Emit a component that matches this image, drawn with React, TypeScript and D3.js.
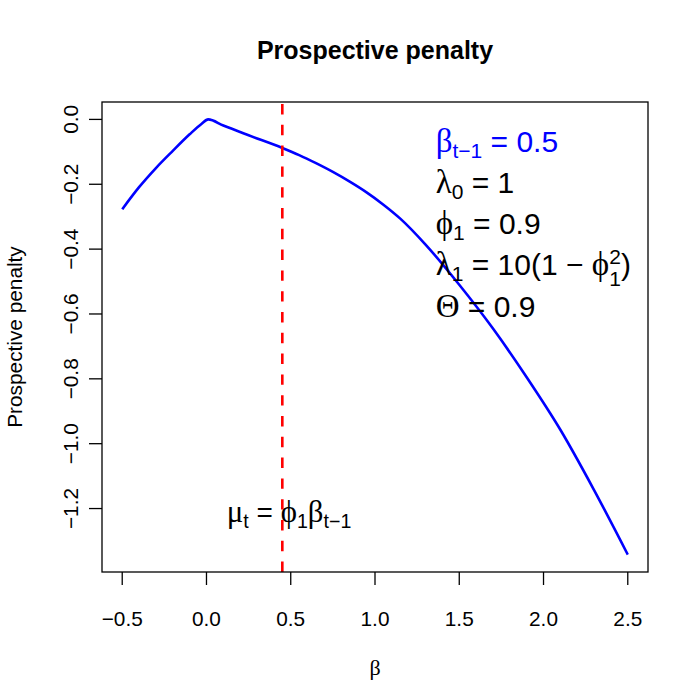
import React from 'react';
import * as d3 from 'd3';

// curve: beta vs prospective penalty
const betaGrid = [
  -0.5, -0.4, -0.3, -0.2, -0.1, -0.03, 0.01, 0.1, 0.25, 0.45, 0.55, 0.65, 0.75,
  0.85, 0.95, 1.05, 1.15, 1.3, 1.5, 1.7, 1.9, 2.1, 2.3, 2.5,
];
const penalty = [
  -0.277, -0.209, -0.15, -0.097, -0.046, -0.014, 0, -0.019, -0.049, -0.088,
  -0.11, -0.135, -0.162, -0.192, -0.225, -0.263, -0.306, -0.386, -0.51,
  -0.645, -0.795, -0.957, -1.143, -1.342,
];

const xTicks = [-0.5, 0, 0.5, 1, 1.5, 2, 2.5];
const yTicks = [0, -0.2, -0.4, -0.6, -0.8, -1.0, -1.2];

const betaPrev = 0.5;
const phi1 = 0.9;
const muT = phi1 * betaPrev;

const W = 700;
const H = 700;
const margin = { top: 102, right: 52, bottom: 128, left: 102 };

const SANS = '"Liberation Sans", Arial, Helvetica, sans-serif';
const SERIF = '"Liberation Serif", "DejaVu Serif", serif';

type Seg = { t: string; greek?: boolean; small?: boolean; off?: number; dx?: number };

const Rich = ({ x, y, segs, size, fill = '#000', anchor = 'start' }: any) => {
  let prev = 0;
  return (
    <text x={x} y={y} fontSize={size} fill={fill} textAnchor={anchor} fontFamily={SANS} style={{ whiteSpace: 'pre' }}>
      {segs.map((s: Seg, i: number) => {
        const off = s.off ?? 0;
        const dy = off - prev;
        prev = off;
        return (
          <tspan
            key={i}
            dy={dy}
            dx={s.dx}
            fontFamily={s.greek ? SERIF : undefined}
            fontSize={s.small ? size * 0.7 : s.greek ? size * 1.1 : undefined}
          >
            {s.t}
          </tspan>
        );
      })}
    </text>
  );
};

// R-style axis extent: 4% padding on each side
const padded = (vals: number[]) => {
  const [lo, hi] = d3.extent(vals) as [number, number];
  const p = (hi - lo) * 0.04;
  return [lo - p, hi + p];
};

export default function App() {
  const x = d3.scaleLinear().domain(padded(betaGrid)).range([margin.left, W - margin.right]);
  const y = d3.scaleLinear().domain(padded(penalty)).range([H - margin.bottom, margin.top]);
  const fmt = d3.format('.1f');

  const pts = betaGrid.map((b, i) => [b, penalty[i]] as [number, number]);
  const line = d3
    .line<[number, number]>()
    .x(d => x(d[0]))
    .y(d => y(d[1]))
    .curve(d3.curveMonotoneX);

  const x0 = margin.left;
  const x1 = W - margin.right;
  const y0 = margin.top;
  const y1 = H - margin.bottom;
  const cx = (x0 + x1) / 2;
  const cy = (y0 + y1) / 2;

  const lgSize = 30;
  const lgX = x(1.36);
  const lgY = y(-0.1);
  const lgStep = 41.2;
  const sub = 6;

  const legendRows: { segs: Seg[]; fill: string }[] = [
    {
      fill: '#0000ff',
      segs: [
        { t: 'β', greek: true },
        { t: 't−1', small: true, off: sub },
        { t: ' = ' + betaPrev.toFixed(1) },
      ],
    },
    {
      fill: '#000',
      segs: [{ t: 'λ', greek: true }, { t: '0', small: true, off: sub }, { t: ' = 1' }],
    },
    {
      fill: '#000',
      segs: [{ t: 'ϕ', greek: true }, { t: '1', small: true, off: sub }, { t: ' = ' + phi1.toFixed(1) }],
    },
    {
      fill: '#000',
      segs: [
        { t: 'λ', greek: true },
        { t: '1', small: true, off: sub },
        { t: ' = 10(1 − ' },
        { t: 'ϕ', greek: true },
        { t: '1', small: true, off: 11 },
        { t: '2', small: true, off: -11, dx: -lgSize * 0.7 * 0.556 },
        { t: ')' },
      ],
    },
    {
      fill: '#000',
      segs: [{ t: 'Θ', greek: true }, { t: ' = 0.9' }],
    },
  ];

  const muSegs: Seg[] = [
    { t: 'μ', greek: true },
    { t: 't', small: true, off: sub },
    { t: ' = ' },
    { t: 'ϕ', greek: true },
    { t: '1', small: true, off: sub },
    { t: 'β', greek: true },
    { t: 't−1', small: true, off: sub },
  ];

  return (
    <svg
      width={W}
      height={H}
      style={{ position: 'absolute', left: 0, top: 0, background: '#fff' }}
      fontFamily={SANS}
    >
      <rect x={0} y={0} width={W} height={H} fill="#fff" />

      {/* title */}
      <text x={cx} y={59} textAnchor="middle" fontSize={25} fontWeight="bold">
        Prospective penalty
      </text>

      {/* penalty curve */}
      <path d={line(pts) || ''} fill="none" stroke="#0000ff" strokeWidth={2.6} strokeLinejoin="round" />

      {/* mu_t marker */}
      <line
        x1={x(muT)}
        x2={x(muT)}
        y1={y1}
        y2={y0}
        stroke="#ff0000"
        strokeWidth={2.6}
        strokeDasharray="10.4 10.4"
      />

      {/* frame */}
      <rect x={x0} y={y0} width={x1 - x0} height={y1 - y0} fill="none" stroke="#000" strokeWidth={1.3} />

      {/* x axis */}
      {xTicks.map(t => (
        <g key={'x' + t}>
          <line x1={x(t)} x2={x(t)} y1={y1} y2={y1 + 13} stroke="#000" strokeWidth={1.3} />
          <text x={x(t)} y={626} textAnchor="middle" fontSize={20.8}>
            {fmt(t)}
          </text>
        </g>
      ))}

      {/* y axis */}
      {yTicks.map(t => (
        <g key={'y' + t}>
          <line x1={x0 - 13} x2={x0} y1={y(t)} y2={y(t)} stroke="#000" strokeWidth={1.3} />
          <text transform={`translate(78,${y(t)}) rotate(-90)`} textAnchor="middle" fontSize={20.8}>
            {fmt(t)}
          </text>
        </g>
      ))}

      {/* axis titles */}
      <text x={cx} y={675} textAnchor="middle" fontSize={22} fontFamily={SERIF}>
        β
      </text>
      <text transform={`translate(22,${cy}) rotate(-90)`} textAnchor="middle" fontSize={20.8}>
        Prospective penalty
      </text>

      {/* parameter legend */}
      {legendRows.map((r, i) => (
        <Rich key={i} x={lgX} y={lgY + i * lgStep} segs={r.segs} size={lgSize} fill={r.fill} />
      ))}

      {/* mu_t label */}
      <Rich x={x(muT + 0.04)} y={y(-1.2) + 13} segs={muSegs} size={28} anchor="middle" />
    </svg>
  );
}
